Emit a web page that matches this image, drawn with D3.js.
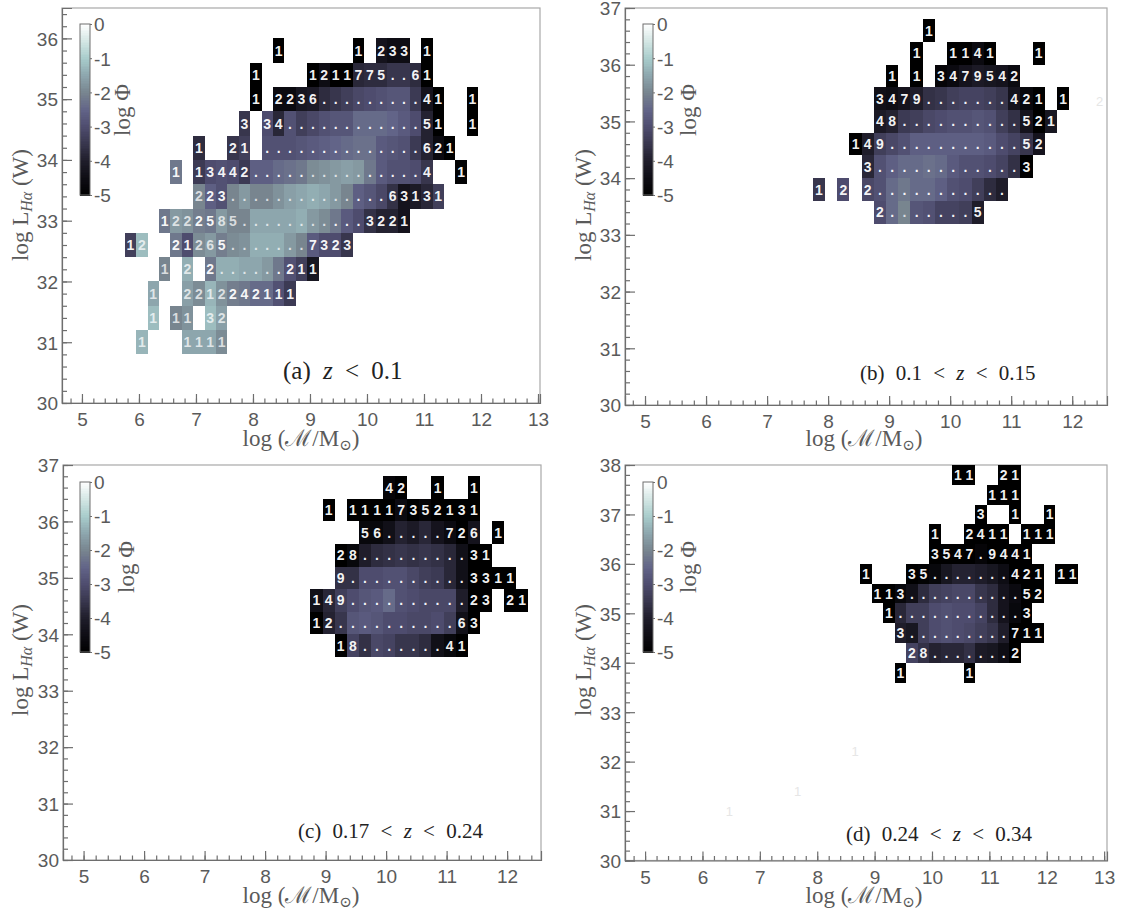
<!DOCTYPE html>
<html>
<head>
<meta charset="utf-8">
<script src="https://cdn.jsdelivr.net/npm/d3@7"></script>
<style>
html,body{margin:0;padding:0;background:#fff;}
svg{display:block;}
</style>
</head>
<body>
<div id="chart"></div>
<script>
// Each row: [log L bin centre, first mass-bin index, count labels, log Phi of each non-blank cell]
const panelARows = [
 [35.8,13,"1      1 233 1",[-5,-5,-4.3,-4.5,-4.5,-5]],
 [35.4,11,"1    1211775..61",[-5,-5,-4.5,-5,-5,-3.8,-3.7,-3.7,-3.5,-3.5,-3.7,-5]],
 [35.0,11,"1 2236.........41  1",[-5,-4.6,-4.6,-4.2,-4.1,-3.7,-3.5,-3.3,-3.1,-3.0,-2.9,-2.8,-2.8,-3.4,-4.3,-5,-5]],
 [34.6,10,"3 34............51  1",[-3.5,-3.0,-3.8,-2.9,-3.3,-3.1,-2.9,-2.8,-2.8,-2.4,-2.4,-2.4,-2.5,-2.7,-3.0,-3.9,-5,-5]],
 [34.2,6,"1  21 ..............621",[-3.7,-3.5,-3.3,-2.9,-2.9,-2.9,-2.8,-2.7,-2.6,-2.5,-2.4,-2.3,-2.3,-2.7,-2.8,-2.9,-3.4,-3.9,-4.6,-5]],
 [33.8,4,"1 13442...............4  1",[-2.2,-3.4,-3.0,-2.9,-3.0,-3.4,-2.6,-2.6,-2.4,-2.3,-2.2,-1.9,-1.8,-1.7,-1.6,-1.7,-2.2,-2.7,-2.9,-2.9,-3.0,-3.5,-4.9]],
 [33.4,6,"223..............63131",[-2.0,-2.6,-2.9,-2.0,-1.7,-2.0,-2.0,-1.8,-1.6,-1.5,-1.4,-1.5,-1.7,-2.0,-2.6,-2.8,-3.1,-3.6,-4.3,-4.1,-3.8,-3.3]],
 [33.0,3,"1222585...........3221",[-2.2,-1.7,-1.8,-2.1,-2.2,-1.7,-2.0,-2.0,-1.5,-1.5,-1.5,-1.5,-1.4,-1.7,-1.9,-2.2,-2.7,-3.0,-3.6,-3.9,-3.9,-4.3]],
 [32.6,0,"12  21265.......7323",[-3.3,-1.2,-2.2,-3.0,-1.9,-1.7,-2.1,-1.9,-1.8,-1.4,-1.4,-1.4,-1.7,-2.0,-2.7,-3.0,-3.0,-3.5]],
 [32.2,3,"1 2 2......211",[-2.0,-1.4,-2.2,-1.4,-1.4,-1.5,-1.5,-1.7,-2.2,-2.9,-3.3,-4.2]],
 [31.8,2,"1  2212242111",[-1.5,-1.6,-1.9,-1.3,-1.8,-2.1,-2.2,-2.4,-2.4,-2.9,-3.4]],
 [31.4,2,"1 11 32",[-1.2,-2.0,-1.8,-1.2,-1.6]],
 [31.0,1,"1   1111",[-1.3,-1.5,-1.5,-1.5,-1.9]]
];
const panelBRows = [
 [36.6,19,"1",[-5]],
 [36.2,18,"1  1141   1",[-5,-5,-5,-4.6,-5,-5]],
 [35.8,16,"1 1 3479542",[-5,-5,-4.8,-4.6,-4.3,-4.1,-4.2,-4.3,-4.6]],
 [35.4,15,"3479.......421 1",[-4.4,-4.5,-4.3,-4.0,-3.6,-3.5,-3.3,-3.2,-3.2,-3.3,-3.5,-4.3,-4.7,-5,-5]],
 [35.0,15,"48..........521",[-4.1,-3.9,-3.4,-3.3,-3.1,-3.0,-2.9,-2.9,-2.8,-2.9,-3.3,-3.6,-4.3,-5,-4.2]],
 [34.6,13,"149...........52",[-5,-4.0,-3.3,-3.1,-2.9,-2.6,-2.6,-2.6,-2.6,-2.6,-2.6,-2.7,-3.0,-3.2,-3.5,-4.3,-3.8]],
 [34.2,14,"3............3",[-3.8,-2.9,-2.6,-2.4,-2.4,-2.3,-2.4,-2.7,-2.9,-2.9,-3.0,-3.2,-3.6,-5]],
 [33.8,10,"1 2 2...........",[-3.5,-3.0,-3.1,-2.9,-2.4,-2.2,-2.4,-2.4,-2.6,-2.9,-3.0,-3.3,-3.7,-4.0]],
 [33.4,15,"2.......5",[-3.0,-2.4,-2.0,-2.8,-2.9,-3.2,-3.2,-3.3,-4.0]]
];
const panelCRows = [
 [36.6,21,"42  1  1",[-4.8,-5,-5,-5]],
 [36.2,16,"1 11117352131",[-5,-5,-5,-5,-5,-4.6,-5,-4.8,-5,-5,-5,-5]],
 [35.8,19,"56.....726 1",[-4.7,-4.7,-4.4,-3.9,-4.1,-3.8,-4.3,-4.6,-5,-4.3,-5]],
 [35.4,17,"28.........31",[-5,-4.7,-4.0,-3.7,-3.6,-3.5,-3.6,-3.5,-3.6,-3.8,-4.4,-5,-5]],
 [35.0,17,"9..........3311",[-3.6,-3.6,-3.0,-3.0,-2.9,-2.9,-3.1,-3.3,-3.4,-3.8,-4.4,-5,-5,-5,-5]],
 [34.6,15,"149..........23 21",[-4.4,-3.8,-3.3,-3.0,-2.8,-2.7,-2.4,-2.9,-3.0,-3.1,-3.1,-3.1,-4.0,-5,-5,-5,-5]],
 [34.2,15,"12..........63",[-5,-3.9,-3.5,-2.8,-2.7,-2.8,-3.0,-3.0,-3.1,-3.1,-3.0,-3.3,-4.4,-5]],
 [33.8,17,"18.......41",[-5,-3.2,-3.6,-3.1,-3.2,-3.5,-3.5,-3.7,-4.4,-4.7,-5]]
];
const panelDRows = [
 [37.8,23,"11  21",[-5,-5,-5,-5]],
 [37.4,26,"111",[-5,-5,-5]],
 [37.0,25,"3  1  1",[-5,-5,-5]],
 [36.6,21,"1  2411 111",[-5,-5,-5,-5,-5,-5,-5,-5]],
 [36.2,21,"3547.9441",[-5,-5,-5,-5,-4.8,-5,-5,-5,-5]],
 [35.8,15,"1   35.......421 11",[-5,-5,-4.9,-4.7,-4.2,-3.9,-3.9,-4.0,-4.2,-4.5,-5,-5,-5,-5,-5]],
 [35.4,16,"113..........52",[-5,-5,-4.7,-4.4,-3.7,-3.3,-3.2,-3.1,-3.1,-3.5,-3.7,-4.3,-4.6,-5,-5]],
 [35.0,17,"1...........3",[-5,-3.8,-3.3,-3.3,-3.0,-2.9,-3.0,-3.0,-3.2,-3.7,-4.3,-4.7,-5]],
 [34.6,18,"3.........711",[-4.0,-4.2,-3.3,-3.0,-2.9,-3.0,-3.1,-3.3,-3.5,-4.0,-5,-5,-5]],
 [34.2,19,"28.......2",[-3.2,-3.6,-3.9,-3.8,-3.8,-3.6,-4.1,-4.2,-4.5,-5]],
 [33.8,18,"1     1",[-5,-5]]
];
// Faint ghost labels left in the picture: [log M, log L, text]
const panelBGhosts = [[12.45,35.35,"2"]];
const panelDGhosts = [[6.47,31.0,"1"],[7.66,31.4,"1"],[8.66,32.2,"1"]];

const colorTicks = [0,-1,-2,-3,-4,-5];
const colorStops = [-5,-4.5,-4,-3.5,-3,-2.5,-2,-1.5,-1,-0.5,0];
const colorHex = ["#000000","#0e0d14","#1f1d2a","#38364d","#4e4c6e","#626488","#78858f","#8da6ad","#a8cccb","#d3e6e4","#ffffff"];
const phiColor = d3.scaleLinear().domain(colorStops).range(colorHex).clamp(true);

const firstBinEdge = 5.75, binWidth = 0.2, rowHeight = 0.4;

const panels = [
 {rows:panelARows, ghosts:[], box:[62,540,8,403], xd:[4.65,13.035], yd:[30,36.5], xt:[5,6,7,8,9,10,11,12,13], yt:[30,31,32,33,34,35,36],
  cb:[80,90,24,195], cbLab:[130,110], xTitle:[301,446], yTitle:[28,205], cap:["(a) ","z"," < 0.1",283,379,25]},
 {rows:panelBRows, ghosts:panelBGhosts, box:[625,1107,8,405], xd:[4.672,12.57], yd:[30,37], xt:[5,6,7,8,9,10,11,12], yt:[30,31,32,33,34,35,36,37],
  cb:[643,653,24,195], cbLab:[696,110], xTitle:[864,446], yTitle:[591,205], cap:["(b) 0.1 < ","z"," < 0.15",860,380,21]},
 {rows:panelCRows, ghosts:[], box:[63,541,465,860], xd:[4.66,12.56], yd:[30,37], xt:[5,6,7,8,9,10,11,12], yt:[30,31,32,33,34,35,36,37],
  cb:[80,90,482,652], cbLab:[134,567], xTitle:[301,903], yTitle:[28,660], cap:["(c) 0.17 < ","z"," < 0.24",298,838,21]},
 {rows:panelDRows, ghosts:panelDGhosts, box:[625,1107,465,860.5], xd:[4.65,13.05], yd:[30,38], xt:[5,6,7,8,9,10,11,12,13], yt:[30,31,32,33,34,35,36,37,38],
  cb:[643,653,482,652], cbLab:[696,567], xTitle:[864,903], yTitle:[591,660], cap:["(d) 0.24 < ","z"," < 0.34",846,841,21]}
];

const W = 1121, H = 913;
const svg = d3.select("#chart").append("svg").attr("width",W).attr("height",H).attr("viewBox",`0 0 ${W} ${H}`);
const SANS = "'Liberation Sans',Arial,sans-serif";
const SERIF = "'Liberation Serif','DejaVu Serif',serif";
const AX = "#6e6e6e", TXT = "#5a5a5a";

panels.forEach(p => {
  const [l,r,t,b] = p.box;
  const g = svg.append("g");
  const x = d3.scaleLinear().domain(p.xd).range([l,r]);
  const y = d3.scaleLinear().domain(p.yd).range([b,t]);

  // frame
  g.append("rect").attr("x",l).attr("y",t).attr("width",r-l).attr("height",b-t)
    .attr("fill","#fff").attr("stroke","#a8a8a8").attr("stroke-width",1.2);

  // cells
  const cells = [];
  p.rows.forEach(([logL,first,labels,vals]) => {
    let vi = 0;
    Array.from(labels).forEach((ch,i) => {
      if (ch === " ") return;
      cells.push({logL, bin:first+i, label:ch, v:vals[vi++]});
    });
  });
  const edge = k => firstBinEdge + binWidth*k;
  g.append("g").attr("shape-rendering","crispEdges").selectAll("rect").data(cells).join("rect")
    .attr("x",d=>x(edge(d.bin)))
    .attr("width",d=>x(edge(d.bin+1))-x(edge(d.bin)))
    .attr("y",d=>y(d.logL+rowHeight/2))
    .attr("height",d=>y(d.logL-rowHeight/2)-y(d.logL+rowHeight/2))
    .attr("fill",d=>phiColor(d.v));
  g.append("g").selectAll("text").data(cells).join("text")
    .attr("x",d=>x(edge(d.bin)+binWidth/2))
    .attr("y",d=>y(d.logL))
    .attr("dy","0.36em").attr("text-anchor","middle")
    .attr("font-family",SANS).attr("font-size",14).attr("font-weight","bold")
    .attr("fill","#fff").attr("fill-opacity",d=>d.v>-2.1?0.72:0.95)
    .text(d=>d.label);

  // ghosts
  g.append("g").selectAll("text").data(p.ghosts).join("text")
    .attr("x",d=>x(d[0])).attr("y",d=>y(d[1])).attr("dy","0.36em").attr("text-anchor","middle")
    .attr("font-family",SANS).attr("font-size",13).attr("fill","#e6e6e6").text(d=>d[2]);

  // axes
  const xAxis = d3.axisBottom(x).tickValues(p.xt).tickSize(-9).tickPadding(0).tickFormat(d3.format("d"));
  const yAxis = d3.axisLeft(y).tickValues(p.yt).tickSize(-10).tickPadding(0).tickFormat(d3.format("d"));
  const xMinor = d3.axisBottom(x).tickValues(d3.range(Math.ceil(p.xd[0]*5),Math.floor(p.xd[1]*5)+1).map(v=>v/5)).tickSize(-4.5).tickFormat("");
  const yMinor = d3.axisLeft(y).tickValues(d3.range(Math.ceil(p.yd[0]*5),Math.floor(p.yd[1]*5)+1).map(v=>v/5)).tickSize(-5).tickFormat("");
  [[xMinor,`translate(0,${b})`],[yMinor,`translate(${l},0)`]].forEach(([a,tr])=>{
    const s = g.append("g").attr("transform",tr).call(a);
    s.select(".domain").remove();
    s.selectAll("line").attr("stroke",AX).attr("stroke-width",1.2);
  });
  const gx = g.append("g").attr("transform",`translate(0,${b})`).call(xAxis);
  gx.select(".domain").attr("stroke",AX).attr("stroke-width",1.2);
  gx.selectAll("line").attr("stroke",AX).attr("stroke-width",1.2);
  gx.selectAll("text").attr("font-family",SANS).attr("font-size",19).attr("fill",TXT).attr("y",23).attr("dy",0);
  const gy = g.append("g").attr("transform",`translate(${l},0)`).call(yAxis);
  gy.select(".domain").attr("stroke",AX).attr("stroke-width",1.2);
  gy.selectAll("line").attr("stroke",AX).attr("stroke-width",1.2);
  gy.selectAll("text").attr("font-family",SANS).attr("font-size",19).attr("fill",TXT).attr("x",-4).attr("dy","0.36em");

  // axis titles
  const xt = g.append("text").attr("x",p.xTitle[0]).attr("y",p.xTitle[1]).attr("text-anchor","middle")
    .attr("font-family",SERIF).attr("font-size",23).attr("fill",TXT);
  xt.append("tspan").text("log (");
  xt.append("tspan").text("ℳ");
  xt.append("tspan").text("/M");
  xt.append("tspan").attr("font-size",15).attr("dy",4).text("⊙");
  xt.append("tspan").attr("dy",-4).text(")");

  const yt = g.append("text").attr("transform",`translate(${p.yTitle[0]},${p.yTitle[1]}) rotate(-90)`).attr("text-anchor","middle")
    .attr("font-family",SERIF).attr("font-size",23).attr("fill",TXT);
  yt.append("tspan").text("log L");
  yt.append("tspan").attr("font-size",16).attr("font-style","italic").attr("dy",4).text("Hα");
  yt.append("tspan").attr("dy",-4).text(" (W)");

  // colour bar
  const [cl,cr,ct,cb] = p.cb;
  const cy = d3.scaleLinear().domain([0,-5]).range([ct,cb]);
  g.append("g").attr("shape-rendering","crispEdges").selectAll("rect").data(d3.range(-5,0,0.05)).join("rect")
    .attr("x",cl).attr("width",cr-cl).attr("y",d=>cy(d+0.05)).attr("height",d=>cy(d)-cy(d+0.05)+0.5)
    .attr("fill",d=>phiColor(d+0.025));
  g.append("rect").attr("x",cl).attr("y",ct).attr("width",cr-cl).attr("height",cb-ct)
    .attr("fill","none").attr("stroke",AX).attr("stroke-width",1);
  const cAxis = d3.axisRight(cy).tickValues(colorTicks).tickSize(2).tickPadding(2).tickFormat(d=>d3.format("d")(d).replace("−","-"));
  const gc = g.append("g").attr("transform",`translate(${cr},0)`).call(cAxis);
  gc.select(".domain").remove();
  gc.selectAll("line").attr("stroke",AX);
  gc.selectAll("text").attr("font-family",SANS).attr("font-size",19).attr("fill",TXT).attr("dy","0.36em");
  g.append("text").attr("transform",`translate(${p.cbLab[0]},${p.cbLab[1]}) rotate(-90)`).attr("text-anchor","middle")
    .attr("font-family",SERIF).attr("font-size",23).attr("fill",TXT).text("log Φ");

  // caption
  const [c1,cz,c2,cxp,cyp,cs] = p.cap;
  const ct2 = g.append("text").attr("x",cxp).attr("y",cyp).attr("font-family",SERIF).attr("font-size",cs).attr("word-spacing",6).attr("fill","#222");
  ct2.append("tspan").text(c1);
  ct2.append("tspan").attr("font-style","italic").text(cz);
  ct2.append("tspan").text(c2);
});
</script>
</body>
</html>
